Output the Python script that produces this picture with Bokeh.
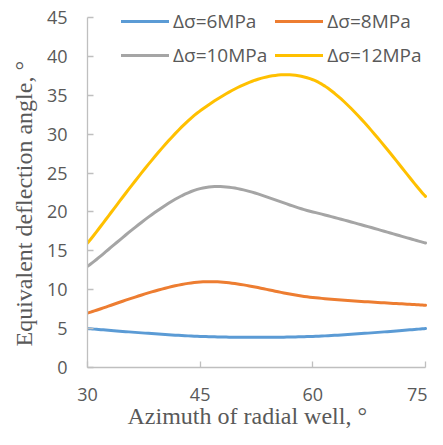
import numpy as np
from bokeh.plotting import figure
from bokeh.models import Legend, LegendItem, FixedTicker, Range1d, Title
from bokeh.embed import file_html
from bokeh.resources import INLINE

azimuth = [30, 45, 60, 75]
s6 = [5, 4, 4, 5]
s8 = [7, 11, 9, 8]
s10 = [13, 23, 20, 16]
s12 = [16, 33, 37, 22]
labels = ["Δσ=6MPa", "Δσ=8MPa", "Δσ=10MPa", "Δσ=12MPa"]
colors = ["#5B9BD5", "#ED7D31", "#A5A5A5", "#FFC000"]
x_ticks = [30, 45, 60, 75]
y_ticks = [0, 5, 10, 15, 20, 25, 30, 35, 40, 45]
x_title = "Azimuth of radial well, °"
y_title = "Equivalent deflection angle, °"


def smooth(xs, ys, n=40):
    # Excel-like smoothed line: cubic Bezier with Catmull-Rom control points
    pts = np.column_stack([xs, ys]).astype(float)
    ext = np.vstack([pts[0], pts, pts[-1]])
    out = []
    t = np.linspace(0, 1, n)[:, None]
    for i in range(len(pts) - 1):
        p0, p1, p2, p3 = ext[i], ext[i + 1], ext[i + 2], ext[i + 3]
        c1 = p1 + (p2 - p0) / 6.0
        c2 = p2 - (p3 - p1) / 6.0
        seg = ((1 - t) ** 3) * p1 + 3 * ((1 - t) ** 2) * t * c1 + 3 * (1 - t) * t ** 2 * c2 + t ** 3 * p2
        out.append(seg if i == 0 else seg[1:])
    a = np.vstack(out)
    return a[:, 0], a[:, 1]


# The frame reaches a little beyond the 45 / 75 ticks so the legend (which sits
# partly above the top tick, as in the original) is not clipped; axis bounds
# keep the drawn axes at 0-45 and 30-75.
px_per_y = 350 / 45.0
px_per_x = 338 / 45.0
y_top = 45 + 15 / px_per_y
x_right = 75 + 2 / px_per_x
p = figure(width=427, height=429, output_backend="svg", toolbar_location=None,
           x_range=Range1d(30, x_right), y_range=Range1d(0, y_top),
           min_border_left=87, min_border_right=0, min_border_top=2, min_border_bottom=62)
p.outline_line_color = None
p.grid.grid_line_color = None
p.background_fill_color = "white"
p.border_fill_color = "white"

renderers = []
for ys, c in zip([s6, s8, s10, s12], colors):
    sx, sy = smooth(azimuth, ys)
    r = p.line(sx, sy, line_color=c, line_width=3, line_cap="round", line_join="round")
    renderers.append(r)

text_color = "#595959"
for ax in (p.xaxis[0], p.yaxis[0]):
    ax.axis_line_color = "#BFBFBF"
    ax.axis_line_width = 1.3
    ax.major_tick_line_color = "#BFBFBF"
    ax.major_tick_line_width = 1.3
    ax.major_tick_in = 6
    ax.major_tick_out = 0
    ax.minor_tick_line_color = None
    ax.major_label_text_font = "Open Sans"
    ax.major_label_text_font_size = "18px"
    ax.major_label_text_color = text_color

p.xaxis.ticker = FixedTicker(ticks=x_ticks)
p.yaxis.ticker = FixedTicker(ticks=y_ticks)
p.xaxis.bounds = (30, 75)
p.yaxis.bounds = (0, 45)
p.xaxis.major_label_standoff = 20
p.yaxis.major_label_standoff = 20

# axis titles as side titles, so they can be aligned along the axis
p.add_layout(Title(text=x_title, align="left", offset=40, standoff=-6,
                   text_font="Liberation Serif", text_font_size="24px",
                   text_font_style="normal", text_color=text_color), "below")
p.add_layout(Title(text=y_title, align="left", offset=21, standoff=13,
                   text_font="Liberation Serif", text_font_size="24px",
                   text_font_style="normal", text_color=text_color), "left")

order = [0, 2, 1, 3]  # legend fills column-wise; show rows (6, 8) and (10, 12)
items = [LegendItem(label=labels[i], renderers=[renderers[i]]) for i in order]
legend = Legend(items=items, ncols=2, location=(34, 299),
                glyph_width=48, glyph_height=20, label_height=20,
                label_standoff=4, spacing=8, padding=0, margin=0,
                label_text_font="Open Sans", label_text_font_size="19px",
                label_text_color=text_color,
                background_fill_alpha=0, border_line_color=None)
p.add_layout(legend, "center")

open("out.html", "w").write(file_html(p, INLINE))
